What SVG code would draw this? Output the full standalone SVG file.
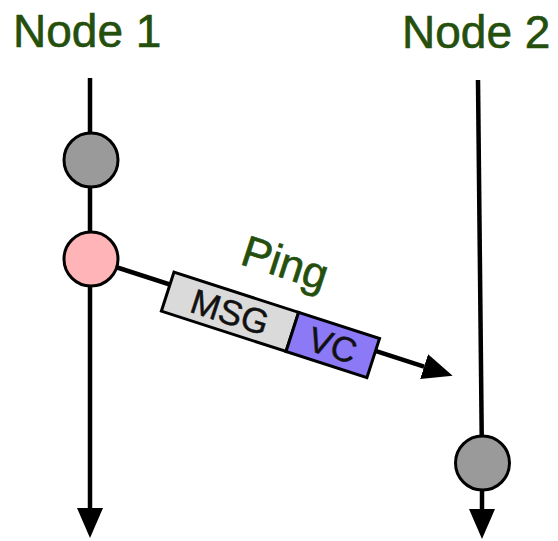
<svg xmlns="http://www.w3.org/2000/svg" width="558" height="541" viewBox="0 0 558 541">
  <style>
    .label { font-family: "Liberation Sans", Arial, Helvetica, sans-serif; fill: #244f0c; stroke: #244f0c; stroke-width: 0.6; }
    .field { font-family: "Liberation Sans", Arial, Helvetica, sans-serif; fill: #111; stroke: #111; stroke-width: 0.5; font-size: 35px; text-anchor: middle; }
    .wire { stroke: #000; stroke-width: 4.5; fill: none; }
    .event { stroke: #000; stroke-width: 3; }
    .gray { fill: #9a9a9a; }
    .pink { fill: #ffb5b8; }
    .box { stroke: #000; stroke-width: 3; }
  </style>
  <defs>
    <marker id="head" viewBox="0 0 30 26" markerWidth="30" markerHeight="26" refX="0" refY="13" orient="auto" markerUnits="userSpaceOnUse">
      <path d="M0,0 L30,13 L0,26 Z" fill="#000"/>
    </marker>
  </defs>

  <rect width="558" height="541" fill="#fff"/>

  <!-- lifelines and the ping message line -->
  <g id="connectors">
    <line class="wire" x1="90" y1="78" x2="90" y2="508" marker-end="url(#head)"/>
    <line class="wire" x1="478" y1="80" x2="482" y2="463"/>
    <line class="wire" x1="482" y1="463" x2="482" y2="509" marker-end="url(#head)"/>
    <line class="wire" x1="91" y1="259" x2="424.1" y2="366.6" marker-end="url(#head)"/>
  </g>

  <g id="node-1">
    <text class="label" x="13" y="47" font-size="46">Node 1</text>
  </g>
  <g id="node-2">
    <text class="label" x="402" y="48" font-size="46">Node 2</text>
  </g>

  <g id="event-1a">
    <circle class="event gray" cx="91" cy="160" r="27"/>
  </g>
  <g id="event-1b">
    <circle class="event pink" cx="91" cy="259" r="27"/>
  </g>
  <g id="event-2a">
    <circle class="event gray" cx="482.5" cy="463" r="27"/>
  </g>

  <!-- message packet, laid out along the ping line -->
  <g id="message" transform="translate(91 259) rotate(17.9)">
    <rect class="box" x="83" y="-13" width="131" height="41" fill="#dadada"/>
    <rect class="box" x="214" y="-13" width="85" height="41" fill="#8b79f5"/>
    <text class="field" x="148.5" y="20">MSG</text>
    <text class="field" x="256.5" y="20">VC</text>
    <text class="label" x="142" y="-41" font-size="44">Ping</text>
  </g>
</svg>
